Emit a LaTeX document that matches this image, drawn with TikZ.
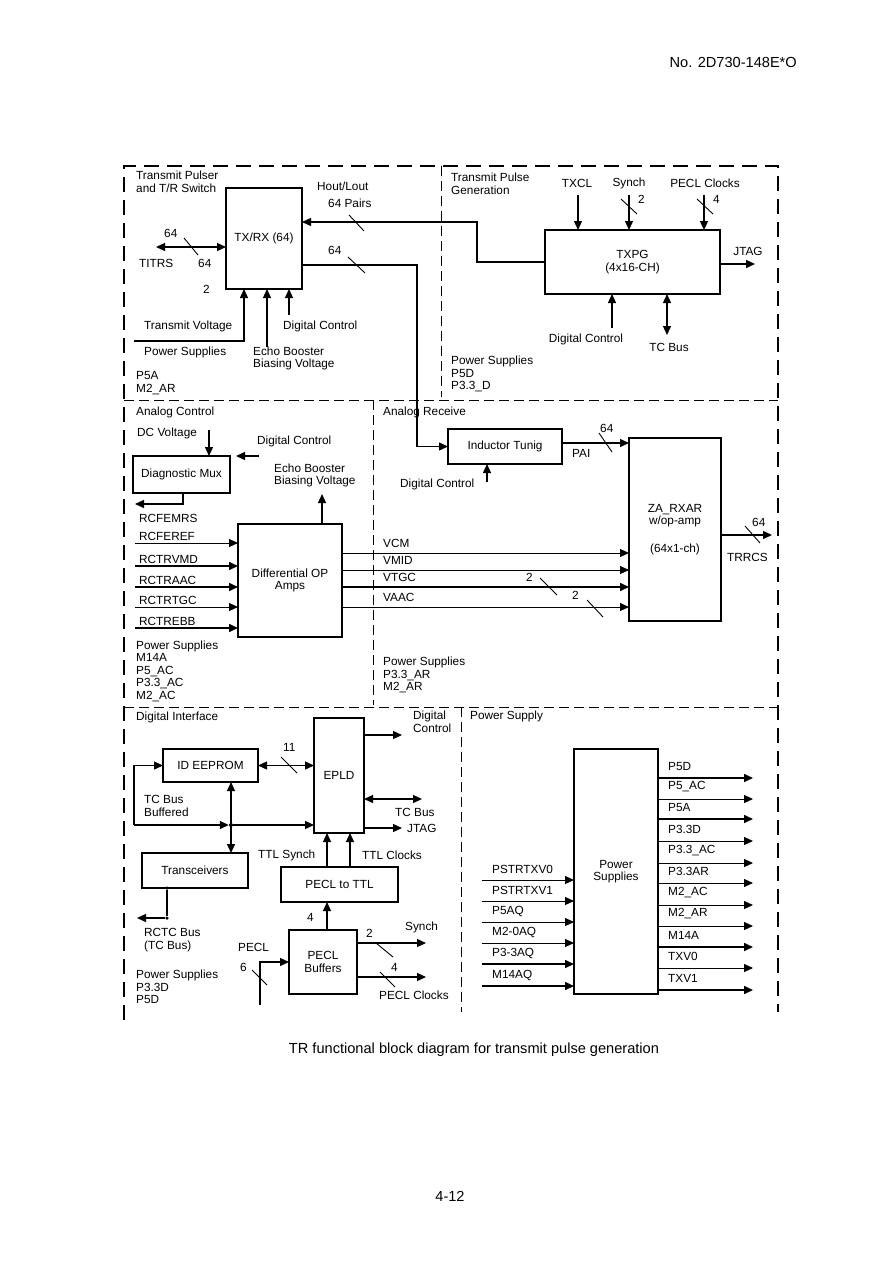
\documentclass[tikz,border=0pt]{standalone}
\usepackage{fontspec}
\setmainfont{Liberation Sans}
\usetikzlibrary{arrows.meta,positioning,calc}
\newcommand\lbl{\fontsize{11.8}{12.5}\selectfont}
\newcommand\pagefnt{\fontsize{14.6}{16}\selectfont}
\tikzset{
  blk/.style={draw, line width=1.3pt, inner sep=0pt, outer sep=0pt, align=center, font=\lbl},
  lab/.style={inner sep=0pt, anchor=west, align=left, font=\lbl},
  clab/.style={inner sep=0pt, align=center, font=\lbl},
  arr/.style={-{Triangle[length=9pt,width=8pt]}, line width=1.3pt},
  darr/.style={{Triangle[length=9pt,width=8pt]}-{Triangle[length=9pt,width=8pt]}, line width=1.3pt},
  wire/.style={line width=1.3pt},
  bmark/.style={line width=0.9pt},
  frm/.style={line width=2pt, dash pattern=on 15pt off 8pt},
  dv/.style={line width=1pt, dash pattern=on 10pt off 5pt},
  jdot/.style={circle, fill, inner sep=0pt, minimum size=4pt},
}
\begin{document}
\begin{tikzpicture}[x=1pt, y=-1pt]
  \useasboundingbox (0,0) rectangle (894,1263);
  % page text
  \node[inner sep=0pt, anchor=east, font=\pagefnt] (docno) at (797,62) {No. 2D730-148E*O};
  \node[inner sep=0pt, font=\pagefnt] (caption) at (474,1050) {TR functional block diagram for transmit pulse generation};
  \node[inner sep=0pt, font=\pagefnt] (pageno) at (450,1196) {4-12};

  % frame and section borders
  \draw[frm] (124,1020) -- (124,166) -- (778,166) -- (778,1012);
  \draw[dv] (441,166) -- (441,397);
  \draw[dv] (124,400) -- (778,400);
  \draw[dv] (373,400) -- (373,705);
  \draw[dv] (124,707) -- (778,707);
  \draw[dv] (461,707) -- (461,1012);

  % blocks
  \node[blk, minimum width=76pt, minimum height=101pt] (txrx) at (264,238.5) {TX/RX (64)};
  \node[blk, minimum width=175pt, minimum height=64pt] (txpg) at (632.5,262) {TXPG\\(4x16-CH)};
  \node[blk, minimum width=97pt, minimum height=37pt] (dmux) at (181.5,474.5) {Diagnostic Mux};
  \node[blk, minimum width=104pt, minimum height=113pt] (diffop) at (290,580.5) {Differential OP\\Amps};
  \node[blk, minimum width=114pt, minimum height=35pt] (indtun) at (505,446.5) {Inductor Tunig};
  \node[blk, minimum width=92pt, minimum height=183pt] (zarx) at (675,529.5) {ZA\_RXAR\\w/op-amp\\[15pt](64x1-ch)};
  \node[blk, minimum width=95pt, minimum height=33pt] (idrom) at (210.5,765.5) {ID EEPROM};
  \node[blk, minimum width=50pt, minimum height=115pt] (epld) at (339,775.5) {EPLD};
  \node[blk, minimum width=106pt, minimum height=35pt] (xcvr) at (195,870.5) {Transceivers};
  \node[blk, minimum width=117pt, minimum height=35pt] (p2t) at (339.5,884.5) {PECL to TTL};
  \node[blk, minimum width=68pt, minimum height=64pt] (pbuf) at (323,962) {PECL\\Buffers};
  \node[blk, minimum width=84pt, minimum height=245pt] (psup) at (616,871.5) {Power\\Supplies};

  % transmit pulser and T/R switch
  \node[lab] (sec1) at (136,182) {Transmit Pulser\\and T/R Switch};
  \node[lab] (hout) at (317,186) {Hout/Lout};
  \node[lab] (pairs) at (328,203) {64 Pairs};
  \node[lab] (n64a) at (164,233) {64};
  \node[lab] (titrs) at (139,263) {TITRS};
  \node[lab] (n64b) at (198,263) {64};
  \node[lab] (n2a) at (203,289) {2};
  \node[lab] (n64c) at (328,250) {64};
  \node[lab] (txv) at (144,326) {Transmit Voltage};
  \node[lab] (dig1) at (283,326) {Digital Control};
  \node[lab] (ps1) at (144,352) {Power Supplies};
  \node[lab] (ebb1) at (253,358.5) {Echo Booster\\Biasing Voltage};
  \node[lab] (ps1v) at (136,383) {P5A\\M2\_AR};
  \coordinate (titrsend) at (156,247);
  \draw[darr] (titrsend) -- (titrsend -| txrx.west);
  \draw[bmark] (184,238) -- (198,255);
  \coordinate (hl) at (477,222);
  \draw[arr] (txpg.west) -- (txpg.west -| hl) -- (hl) -- (hl -| txrx.east);
  \draw[bmark] (349,215) -- (364,231);
  \coordinate (rxdn) at (417,265);
  \draw[arr] (rxdn -| txrx.east) -- (rxdn) -- (rxdn |- indtun.west) -- (indtun.west);
  \draw[bmark] (348,257) -- (365,273);
  \coordinate (tvin) at (134,341);
  \draw[arr] (tvin) -| ([xshift=-20pt]txrx.south);
  \coordinate (ebin) at (267,347);
  \draw[arr] (ebin) -- (ebin |- txrx.south);
  \coordinate (dcin) at (289,315);
  \draw[arr] (dcin) -- (dcin |- txrx.south);

  % transmit pulse generation
  \node[lab] (sec2) at (451,184) {Transmit Pulse\\Generation};
  \node[clab] (txcl) at (577,183) {TXCL};
  \node[clab] (synch) at (629,183) {Synch};
  \node[clab] (peclc) at (705,183) {PECL Clocks};
  \node[lab] (n2b) at (638,199) {2};
  \node[lab] (n4a) at (713,199) {4};
  \node[clab] (jtag) at (748,251) {JTAG};
  \node[clab] (dig2) at (586,339) {Digital Control};
  \node[clab] (tcbus) at (669,347) {TC Bus};
  \node[lab] (ps2) at (451,374) {Power Supplies\\P5D\\P3.3\_D};
  \foreach \n/\x in {a/578, b/629, c/704}
    \coordinate (tin\n) at (\x,195);
  \foreach \n in {a,b,c}
    \draw[arr] (tin\n) -- (tin\n |- txpg.north);
  \draw[bmark] (621,199) -- (637,214);
  \draw[bmark] (697,199) -- (713,214);
  \coordinate (jtagend) at (755,264);
  \draw[arr] (jtagend -| txpg.east) -- (jtagend);
  \coordinate (dcp) at (612,328);
  \draw[arr] (dcp) -- (dcp |- txpg.south);
  \coordinate (tcb) at (667,335);
  \draw[darr] (tcb |- txpg.south) -- (tcb);

  % analog control
  \node[lab] (sec3) at (136,412) {Analog Control};
  \node[lab] (dcv) at (137,433) {DC Voltage};
  \node[lab] (dig3) at (257,441) {Digital Control};
  \node[lab] (ebb2) at (274,475.5) {Echo Booster\\Biasing Voltage};
  \node[lab] (rcfemrs) at (139,518) {RCFEMRS};
  \node[lab] (ps3) at (136,671) {Power Supplies\\M14A\\P5\_AC\\P3.3\_AC\\M2\_AC};
  \coordinate (dcvin) at (209,430);
  \draw[arr] (dcvin) -- (dcvin |- dmux.north);
  \coordinate (dcm) at (259,456);
  \draw[arr] (dcm) -- ([xshift=6pt]dmux.north east);
  \coordinate (mrs) at (135,504);
  \draw[arr] ([xshift=1.5pt]dmux.south) |- (mrs);
  \coordinate (ebo) at (322,494);
  \draw[arr] (ebo |- diffop.north) -- (ebo);
  \foreach \y/\t/\w [count=\i] in {543/RCFEREF/0.9pt, 566/RCTRVMD/1.6pt, 587/RCTRAAC/1.6pt,
      607/RCTRTGC/0.9pt, 628/RCTREBB/1.6pt} {
    \coordinate (rc\i) at (135,\y);
    \draw[arr, line width=\w] (rc\i) -- (rc\i -| diffop.west);
    \node[lab] (rcl\i) at (139,\y-7) {\t};
  }

  % analog receive
  \node[lab] (sec4) at (383,412) {Analog Receive};
  \node[lab] (dig4) at (400,484) {Digital Control};
  \node[lab] (n64d) at (600,428) {64};
  \node[lab] (pai) at (572,453) {PAI};
  \node[lab] (n64e) at (752,522) {64};
  \node[lab] (trrcs) at (727,557) {TRRCS};
  \node[lab] (n2c) at (526,577) {2};
  \node[lab] (n2d) at (572,595) {2};
  \node[lab] (ps4) at (383,675) {Power Supplies\\P3.3\_AR\\M2\_AR};
  \coordinate (dci) at (487,482);
  \draw[arr] (dci) -- (dci |- indtun.south);
  \draw[arr] ([yshift=3.5pt]indtun.east) -- ([yshift=3.5pt]indtun.east -| zarx.west);
  \draw[bmark] (599,433) -- (612,452);
  \coordinate (trr) at (772,535);
  \draw[arr] (trr -| zarx.east) -- (trr);
  \draw[bmark] (745,526) -- (760,543);
  \foreach \y/\t/\w [count=\i] in {553/VCM/0.9pt, 570/VMID/0.9pt, 587/VTGC/1.6pt, 607/VAAC/0.9pt} {
    \coordinate (vl\i) at (383,\y);
    \draw[arr, line width=\w] (vl\i -| diffop.east) -- (vl\i -| zarx.west);
    \node[lab] (vll\i) at (383,\y-10) {\t};
  }
  \draw[bmark] (540,578) -- (557,595);
  \draw[bmark] (587,600) -- (603,617);

  % digital interface
  \node[lab] (sec5) at (136,717) {Digital Interface};
  \node[lab] (dig5) at (413,722) {Digital\\Control};
  \node[lab] (n11) at (283,747) {11};
  \node[lab] (tcbb) at (144,806) {TC Bus\\Buffered};
  \node[lab] (tcbus2) at (395,812) {TC Bus};
  \node[lab] (jtag2) at (407,828) {JTAG};
  \node[lab] (ttls) at (258,855) {TTL Synch};
  \node[lab] (ttlc) at (362,855) {TTL Clocks};
  \node[lab] (rctc) at (144,940) {RCTC Bus\\(TC Bus)};
  \node[lab] (n4b) at (307,917) {4};
  \node[lab] (pecl) at (238,947) {PECL};
  \node[lab] (n6) at (240,967) {6};
  \node[lab] (synch2) at (405,927) {Synch};
  \node[lab] (n2e) at (366,933) {2};
  \node[lab] (n4c) at (391,967) {4};
  \node[lab] (peclc2) at (379,995) {PECL Clocks};
  \node[lab] (ps5) at (136,987) {Power Supplies\\P3.3D\\P5D};
  \coordinate (dco) at (402,735);
  \draw[arr] (dco -| epld.east) -- (dco);
  \draw[darr] (idrom.east) -- (idrom.east -| epld.west);
  \draw[bmark] (281,757) -- (297,773);
  \coordinate (tce) at (422,799);
  \draw[darr] (tce -| epld.east) -- (tce);
  \coordinate (jte) at (402,828);
  \draw[arr] (jte -| epld.east) -- (jte);
  \node[jdot] (jn) at (231,825) {};
  \coordinate (tcl) at (134,825);
  \draw[arr] (tcl) -- (jn);
  \draw[arr] (jn) -- (jn -| epld.west);
  \draw[arr] (tcl) |- (idrom.west);
  \draw[darr] (idrom.south -| jn) -- (xcvr.north -| jn);
  \node[jdot, minimum size=3.5pt] (xd1) at (167,888) {};
  \node[jdot, minimum size=3.5pt] (xd2) at (167,918) {};
  \coordinate (rct) at (137,918);
  \draw[wire] (xd1) -- (xd2);
  \draw[arr] (xd2) -- (rct);
  \draw[arr] ([xshift=-12.5pt]p2t.north) -- ([xshift=-12.5pt]p2t.north |- epld.south);
  \draw[arr] ([xshift=10.5pt]p2t.north) -- ([xshift=10.5pt]p2t.north |- epld.south);
  \draw[arr] ([xshift=4pt]pbuf.north) -- ([xshift=4pt]pbuf.north |- p2t.south);
  \coordinate (pin) at (260,1005);
  \draw[arr] (pin) |- (pbuf.west);
  \draw[bmark] (252,970) -- (267,985);
  \coordinate (syo) at (426,943);
  \draw[arr] (syo -| pbuf.east) -- (syo);
  \draw[bmark] (376,943) -- (393,957);
  \coordinate (pco) at (426,977);
  \draw[arr] (pco -| pbuf.east) -- (pco);
  \draw[bmark] (380,972) -- (395,987);

  % power supply
  \node[lab] (sec6) at (470,716) {Power Supply};
  \foreach \y/\t/\w [count=\i] in {880/PSTRTXV0/0.9pt, 901/PSTRTXV1/0.9pt, 922/P5AQ/0.9pt,
      943/M2-0AQ/0.9pt, 964/P3-3AQ/1.6pt, 986/M14AQ/1.6pt} {
    \coordinate (pi\i) at (482,\y);
    \draw[arr, line width=\w] (pi\i) -- (pi\i -| psup.west);
    \node[lab] (pil\i) at (492,\y-11) {\t};
  }
  \foreach \y/\t/\w [count=\i] in {778/P5D/1.6pt, 799/P5\_AC/0.9pt, 819/P5A/1.6pt, 841/P3.3D/0.9pt,
      863/P3.3\_AC/0.9pt, 883/P3.3AR/0.9pt, 905/M2\_AC/0.9pt, 926/M2\_AR/0.9pt,
      947/M14A/1.6pt, 968/TXV0/0.9pt, 990/TXV1/1.6pt} {
    \coordinate (po\i) at (753,\y);
    \draw[arr, line width=\w] (po\i -| psup.east) -- (po\i);
    \node[lab] (pol\i) at (668,\y-12) {\t};
  }
\end{tikzpicture}
\end{document}
